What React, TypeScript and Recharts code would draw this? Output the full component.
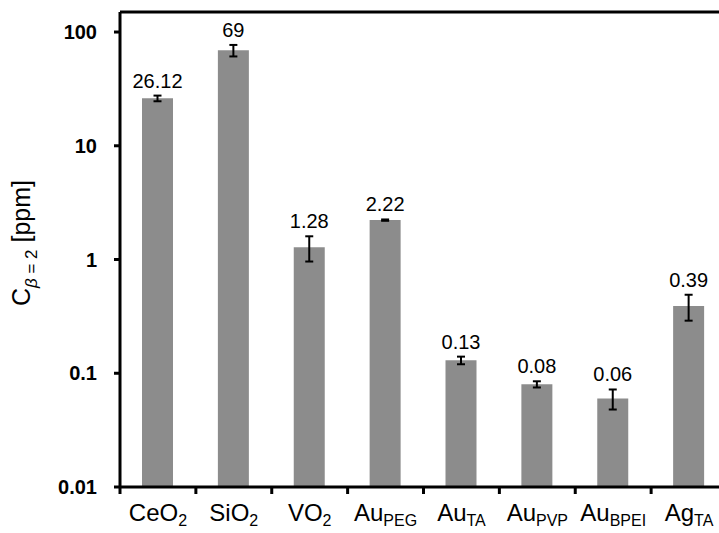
import { Bar, BarChart, ErrorBar, LabelList, ReferenceLine, XAxis, YAxis } from "recharts";

const nameBase = ["CeO", "SiO", "VO", "Au", "Au", "Au", "Au", "Ag"];
const nameSub = ["2", "2", "2", "PEG", "TA", "PVP", "BPEI", "TA"];
const conc = [26.12, 69, 1.28, 2.22, 0.13, 0.08, 0.06, 0.39];
const concErr = [1.5, 8, 0.32, 0.03, 0.01, 0.005, 0.012, 0.1];
const yTicks = [0.01, 0.1, 1, 10, 100];

const W = 740;
const H = 533;
const M = { top: 12, right: 13, bottom: 6, left: 0 };
const Y_W = 120;
const BAND = (W - M.left - M.right - Y_W) / nameBase.length;
const Y_MIN = 0.01;
const Y_MAX = 150;
const FONT = "'Liberation Sans', Arial, Helvetica, sans-serif";

const data = nameBase.map((b, i) => ({
  name: b + nameSub[i],
  value: conc[i],
  err: concErr[i],
}));

function CategoryTick(props: any) {
  const { x, y, index } = props;
  const left = x - BAND / 2;
  return (
    <g>
      <line x1={left} y1={y} x2={left} y2={y + 7} stroke="#000" strokeWidth={3} />
      <text x={x} y={y + 34} textAnchor="middle" fontFamily={FONT} fontSize={24} fill="#000">
        {nameBase[index]}
        <tspan fontSize={16} dy={5}>
          {nameSub[index]}
        </tspan>
      </text>
    </g>
  );
}

// value label sits just above the top of the error bar
function ValueLabel(props: any) {
  const { x, y, width, height, value, index } = props;
  const perDecade = height / Math.log10(value / Y_MIN);
  const e = concErr[index];
  const errPx = perDecade * Math.log10((value + e) / value);
  return (
    <text
      x={x + width / 2}
      y={y - errPx - 8}
      textAnchor="middle"
      fontFamily={FONT}
      fontSize={20}
      fill="#000"
    >
      {value}
    </text>
  );
}

function YTitle() {
  const cx = 30;
  const cy = 243;
  return (
    <text
      x={cx}
      y={cy}
      transform={`rotate(-90 ${cx} ${cy})`}
      textAnchor="middle"
      fontFamily={FONT}
      fontSize={25}
      fill="#000"
    >
      C
      <tspan fontSize={17} dy={7}>
        <tspan fontStyle="italic">β</tspan> = 2
      </tspan>
      <tspan dy={-7}> [ppm]</tspan>
    </text>
  );
}

export default function App() {
  return (
    <div
      style={{
        position: "absolute",
        left: 0,
        top: 0,
        width: 719,
        height: 533,
        overflow: "hidden",
        background: "#fff",
      }}
    >
      <BarChart width={W} height={H} data={data} margin={M}>
        <XAxis
          dataKey="name"
          height={40}
          interval={0}
          tickSize={0}
          tickMargin={0}
          tickLine={false}
          axisLine={{ stroke: "#000", strokeWidth: 3 }}
          tick={<CategoryTick />}
        />
        <YAxis
          width={Y_W}
          scale="log"
          type="number"
          domain={[Y_MIN, Y_MAX]}
          ticks={yTicks}
          allowDataOverflow
          tickSize={6}
          tickMargin={17}
          axisLine={{ stroke: "#000", strokeWidth: 3 }}
          tickLine={{ stroke: "#000", strokeWidth: 3 }}
          tick={{ fontSize: 20, fontWeight: "bold", fill: "#000", fontFamily: FONT }}
          label={<YTitle />}
        />
        <ReferenceLine y={Y_MAX} stroke="#000" strokeWidth={3} />
        <Bar dataKey="value" fill="#8c8c8c" barSize={31} isAnimationActive={false}>
          <ErrorBar dataKey="err" width={4} strokeWidth={2} stroke="#000" direction="y" />
          <LabelList dataKey="value" content={<ValueLabel />} />
        </Bar>
      </BarChart>
    </div>
  );
}
